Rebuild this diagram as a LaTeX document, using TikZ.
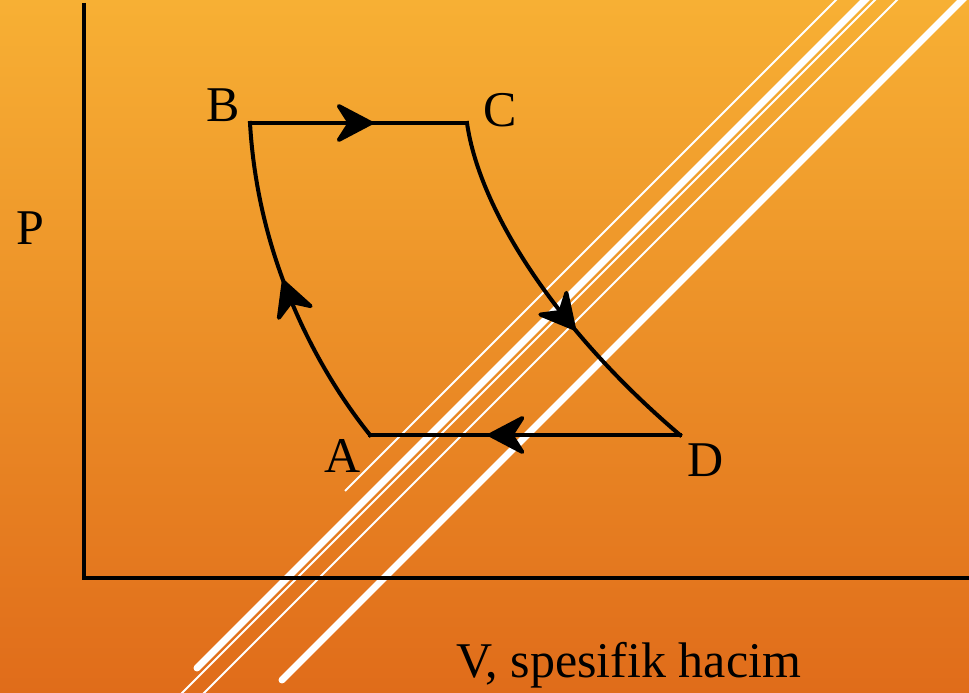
\documentclass[tikz,border=0pt]{standalone}
\usepackage{fontspec}
\setmainfont{Liberation Serif}
\usetikzlibrary{arrows.meta,decorations.markings}
\definecolor{bgtop}{RGB}{247,176,52}
\definecolor{bgbot}{RGB}{224,108,26}
\tikzset{
  cyc/.style={line width=4pt, line cap=rect, line join=miter},
  axisline/.style={line width=4.5pt, line join=miter},
  thickwhite/.style={white, line width=7pt, line cap=round},
  thinwhite/.style={white, line width=2pt},
  lbl/.style={inner sep=0pt, anchor=base, font=\fontsize{50}{55}\selectfont},
  midarrow/.style={postaction={decorate}, decoration={markings,
    mark=at position #1 with {\arrow{Stealth[length=42pt,width=44pt,inset=14pt,round]}}}},
}
\begin{document}
\begin{tikzpicture}[x=1pt,y=1pt]
\useasboundingbox (0,0) rectangle (969,693);
\shade[top color=bgtop,bottom color=bgbot] (0,0) rectangle (969,693);
% white diagonal lines
\begin{scope}
  \clip (0,0) rectangle (969,693);
  \draw[thinwhite] (345,202) -- (856,713);
  \draw[thickwhite] (197,25) -- (886,714);
  \draw[thinwhite] (162,-20) -- (895,713);
  \draw[thinwhite] (184,-20) -- (917,713);
  \draw[thickwhite] (282,13) -- (982,713);
\end{scope}
% axes
\coordinate (ytop) at (84,690);
\coordinate (O) at (84,115);
\coordinate (xend) at (972,115);
\draw[axisline] (ytop) -- (O) -- (xend);
% cycle corners
\coordinate (A) at (370,258);
\coordinate (B) at (250,570);
\coordinate (C) at (467,570);
\coordinate (D) at (680,258);
\draw[cyc, midarrow=0.567] (B) -- (C);
\draw[cyc, midarrow=0.614] (C) .. controls (480,480) and (560,360) .. (D);
\draw[cyc, midarrow=0.619] (D) -- (A);
\draw[cyc, midarrow=0.526] (A) .. controls (320,320) and (258,430) .. (B);
% labels
\node[lbl] (lP) at (30,448) {P};
\node[lbl] (lB) at (223,571) {B};
\node[lbl] (lC) at (500,566) {C};
\node[lbl] (lA) at (343,220) {A};
\node[lbl] (lD) at (706,216) {D};
\node[lbl, anchor=base west] (lV) at (456,15) {V, spesifik hacim};
\end{tikzpicture}
\end{document}
